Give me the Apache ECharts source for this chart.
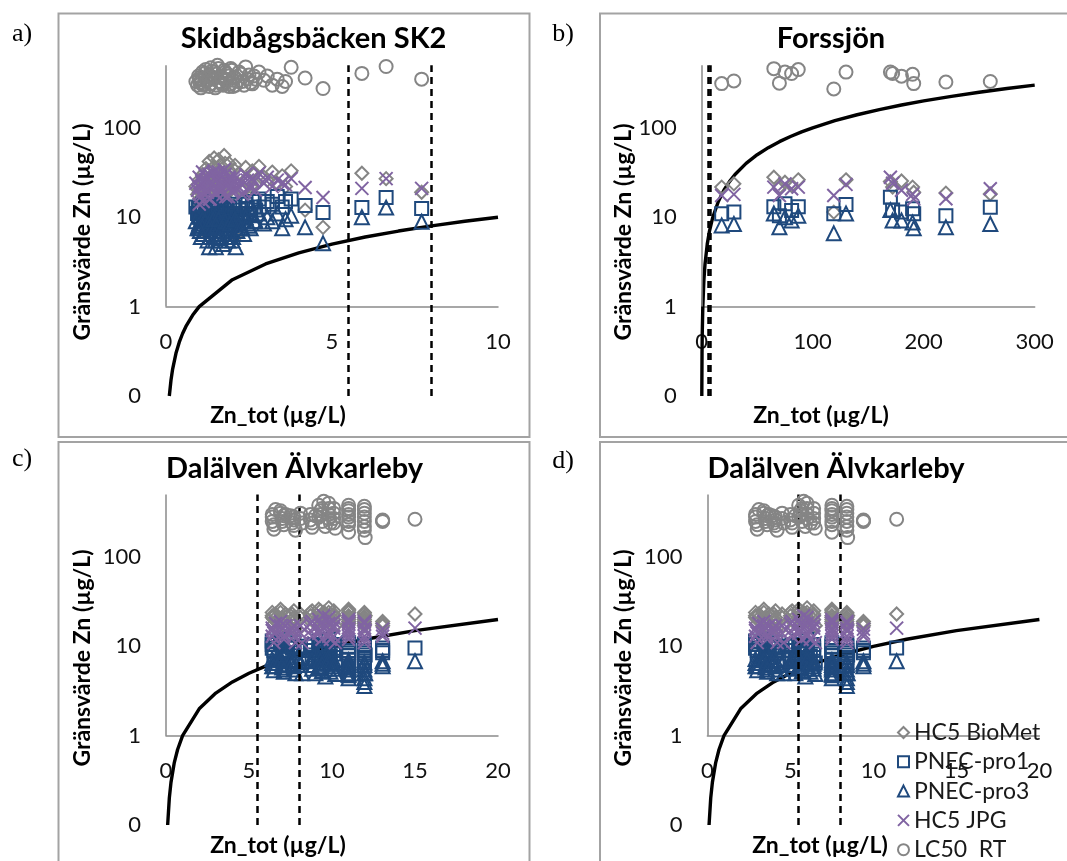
<!DOCTYPE html>
<html>
<head>
<meta charset="utf-8">
<title>Gränsvärde Zn</title>
<script src="https://cdn.jsdelivr.net/npm/echarts@6/dist/echarts.min.js"></script>
<style>
html,body{margin:0;padding:0;background:#fff}
#main{width:1067px;height:861px}
</style>
</head>
<body>
<div id="main"></div>
<script>
// series names (legend order)
var seriesNames = ['HC5 BioMet', 'PNEC-pro1', 'PNEC-pro3', 'HC5 JPG', 'LC50  RT'];

// a) Skidbågsbäcken SK2
var aZn   = [0.90,0.95,1.00,1.05,1.10,1.15,1.20,1.25,1.30,1.30,1.35,1.40,1.45,1.50,1.55,1.60,1.65,1.70,1.75,1.80,1.85,1.90,1.95,2.00,2.05,2.10,2.20,2.30,2.40,2.50,2.60,2.70,2.80,2.95,3.05,3.20,3.35,3.50,3.60,3.77,4.19,4.73,5.90,6.63,7.70,
             0.98,1.02,1.08,1.12,1.18,1.22,1.28,1.33,1.38,1.42,1.48,1.52,1.58,1.62,1.68,1.72,1.78,1.82,1.88,1.92,1.98,2.02,2.08,2.15,2.25,2.35,2.45,2.55,2.65,1.00];
var aBio  = [22,18,26,15,30,20,35,24,42,6,28,21,46,25,32,19,38,27,49,22,30,40,24,18,34,6,31,21,36,25,33,23,37,28,26,32,24,29,22,33,12,7.7,31,27,19,
             20,16,25,19,28,22,33,18,26,36,21,29,44,23,31,20,40,26,19,33,27,22,38,24,29,20,27,22,30,13];
var aPro1 = [13,11,12,9.5,14,10,11,9,13,8,12,10,15,9,11,8.5,13,10,14,9,12,11,10,8,13,9.5,12,10,14,11,15,12,16,13,15,14,17,13,15,16,13.5,11.3,12.8,16.6,12.5,
             12.5,10,11.5,9,13,10.5,12,9,11,13.5,8.5,12,14,9.5,11.5,8.5,13,10,8,12.5,10.5,9,14,10,11,9,12.5,10.5,13,10];
var aPro3 = [9,7.5,8.5,6,9.5,7,8,5.5,9,4.6,8,6.5,10,4.6,7.5,5.8,8.5,7,9.5,6,8,6,6.5,5.5,9,4.6,8.5,7.5,10,8,10.5,9,11,8.5,10,9,11,7.5,9.5,10.4,7.7,5.1,10,12.8,8.9,
             8,7,8,6.5,9,7,8.5,6,7.5,9.5,5.5,8,9.5,6.5,7.5,5,9,7,5.5,8.5,7,6,9.5,7,7.5,6.5,8.5,7.5,9,7.5];
var aJpg  = [24,20,28,17,32,22,26,19,30,16,25,21,33,18,27,23,29,20,34,17,24,28,22,19,26,21,25,18,30,22,27,20,31,24,28,22,26,24,23,27,21.5,16.6,21,27,21,
             22,18,25,15,29,20,27,16,23,31,19,26,32,20,25,18,30,22,17,27,23,20,29,21,24,19,26,21,25,14];
var aLc50 = [330,300,360,280,420,310,450,340,390,290,470,360,420,300,500,330,380,310,440,350,400,290,460,340,370,300,420,330,480,390,310,350,420,340,380,300,350,290,330,475,360,275,406,485,350,
             380,320,350,300,410,330,370,310,430,350,280,400,460,320,360,300,420,340,380,310,440,290,360,330,400,300,350,320,380,340];
var aRef  = [[0.1,0.1],[0.15,0.15],[0.2,0.2],[0.3,0.3],[0.4,0.4],[0.5,0.5],[0.6,0.6],[0.8,0.8],[1,1],[2,2],[3,3],[4,4],[5,5],[6,6],[7,7],[8,8],[9,9],[10,10]];

// b) Forssjön
var bZn   = [18,29,65,70,75,81,87,119,130,170,172,180,190,191,220,260];
var bBio  = [21.7,23.6,28,21.7,24.6,22.6,26.2,11.4,26.2,25,21.7,25.4,21.7,19,18.6,18.2];
var bPro1 = [10.9,11.4,13.1,10.4,14.1,11.9,13.1,10.9,13.9,16.7,12,11.4,12.4,10.9,10.4,12.9];
var bPro3 = [8.1,8.4,11,7.7,10,9.2,10.4,6.6,11,12,9.2,9.2,8.7,7.5,7.7,8.4];
var bJpg  = [17.5,18,21.7,17.5,23.6,20.8,21.7,17.5,23.3,28,24,20,18,16,16.1,20.8];
var bLc50 = [312,334,459,316,420,405,448,272,420,420,405,378,397,312,325,330];
var bRef  = [[0.1,0.1],[0.3,0.3],[0.5,0.5],[1,1],[2,2],[3,3],[5,5],[7,7],[10,10],[15,15],[20,20],[25,25],[30,30],[40,40],[50,50],[60,60],[70,70],[80,80],[90,90],[100,100],[120,120],[140,140],[160,160],[180,180],[200,200],[225,225],[250,250],[275,275],[300,300]];

// c) and d) Dalälven Älvkarleby (same limit values, two Zn measures)
var cZn   = [6.4,6.4,6.5,6.6,6.9,7.0,7.1,7.2,7.5,7.7,7.7,7.8,8.1,8.2,8.7,8.8,9.0,9.2,9.3,9.4,9.5,9.6,9.8,9.8,9.9,10.1,10.1,10.2,11.0,11.0,11.0,11.0,11.0,11.95,11.95,11.95,11.95,12.0,13.05,13.05,15.0,
             6.4,6.5,6.9,7.0,7.1,7.6,7.7,8.1,8.7,8.8,9.2,9.3,9.4,9.8,9.8,10.1,10.1,11.0,11.0,11.0,11.95,11.95,11.95,13.05];
var dZn   = [2.9,2.9,3.0,3.1,3.4,3.5,3.6,3.7,3.9,4.1,4.1,4.2,4.5,4.6,5.0,5.1,5.3,5.5,5.6,5.7,5.8,5.9,6.0,6.0,6.2,6.4,6.4,6.5,7.5,7.5,7.5,7.5,7.5,8.4,8.4,8.4,8.4,8.45,9.4,9.4,11.4,
             2.9,3.0,3.4,3.5,3.6,4.0,4.1,4.5,5.0,5.1,5.5,5.6,5.7,6.0,6.0,6.4,6.4,7.5,7.5,7.5,8.4,8.4,8.4,9.4];
var cBio  = [24,21,18,23,26,20,17,23,22,25,19,16,21,17,24,20,18,26,22,19,24,23,27,21,18,25,20,17,26,22,18,20,24,24,21,19,17,22,19,17,23,
             22,20,24,21,19,23,21,23,22,25,21,25,23,24,20,22,23,25,21,19,23,20,18,18];
var cPro1 = [11.5,9.5,8,10.5,12,9,7.5,8.5,10,11,8.5,7,9,7.2,10,8,7,11.5,9,7.5,10,8.5,12,9.5,7.8,10.5,8.2,6.5,11,9,7,4.7,8,10.5,9,7.5,6,8,9.6,8.5,9.6,
             10.5,9,11,10,8,9.5,10,10,9,10.5,8.5,10.5,9.5,10,8.5,9.5,9,10,8.5,6,10,8.5,6.8,9];
var cPro3 = [7.2,6,5.4,6.5,7.5,5.8,5.2,6.2,6.8,7,5.5,5,6.2,5,6.8,5.6,5,7.4,6,5.3,6.6,4.6,7.6,6.4,5.2,7,5.6,4.9,7,5.8,5,4.8,6.2,6.6,5.5,4.4,3.6,5,6.8,6,6.8,
             6.5,6,7,6.2,5.5,6.4,6,6.6,6.2,7,5.8,7,6.4,7,5.6,6.4,6,6.6,5.5,4.4,6.2,5,4,6.4];
var cJpg  = [16,13,11,18,19,14,12,17,15,17,13,11,14,11,18,13,16,20,15,12,22,17,21,14,12,19,13,11,20,16,12,14,18,19,16,13,11,15,15.6,13,16,
             15,14,17,16,13,16,15,17,15,19,14,18,17,18,13,16,17,19,15,13,18,15,12,14];
var cLc50 = [300,250,205,340,330,270,230,300,290,260,225,200,310,240,260,215,290,380,330,250,420,220,400,300,240,350,270,210,380,330,280,230,190,370,310,250,200,165,260,255,265,
             280,230,310,250,290,240,280,270,300,240,280,300,350,350,270,310,240,350,300,250,340,280,220,250];
var cRef  = [[0.1,0.1],[0.2,0.2],[0.3,0.3],[0.5,0.5],[0.7,0.7],[1,1],[2,2],[3,3],[4,4],[5,5],[6,6],[8,8],[10,10],[12,12],[15,15],[20,20]];

var limitLines = [5.5, 8];

var sans = 'Lato, "Open Sans", sans-serif';
var serif = '"Liberation Serif", "DejaVu Serif", serif';
var gray = '#858585', blue = '#1f497d', purple = '#8064a2';
var symbols = ['diamond', 'rect', 'triangle', 'path://M0,0L10,10M10,0L0,10', 'circle'];
var symbolSizes = [13, 13, 14, 13, 13];
var colors = [gray, blue, blue, purple, gray];

var chart = echarts.init(document.getElementById('main'));

function pairs(xs, ys) {
    var out = [];
    for (var i = 0; i < xs.length; i++) out.push([xs[i], ys[i]]);
    return out;
}

var grids = [
    {left: 166, top: 38.4, width: 332, height: 357.6},
    {left: 701.7, top: 38.4, width: 333, height: 357.6},
    {left: 166, top: 467.7, width: 332, height: 357.3},
    {left: 707.4, top: 467.7, width: 332, height: 357.3}
];
var xMax = [10, 300, 20, 20];
var xInterval = [5, 100, 5, 5];
var panels = [
    {zn: aZn, ys: [aBio, aPro1, aPro3, aJpg, aLc50], ref: aRef},
    {zn: bZn, ys: [bBio, bPro1, bPro3, bJpg, bLc50], ref: bRef},
    {zn: cZn, ys: [cBio, cPro1, cPro3, cJpg, cLc50], ref: cRef},
    {zn: dZn, ys: [cBio, cPro1, cPro3, cJpg, cLc50], ref: cRef}
];

var xAxes = [], yAxes = [], series = [];
grids.forEach(function (g, i) {
    xAxes.push({
        type: 'value', gridIndex: i, min: 0, max: xMax[i], interval: xInterval[i],
        offset: -(g.height / 4),
        axisLine: {onZero: false, lineStyle: {color: '#8a8a8a', width: 1.5}},
        axisTick: {show: false},
        splitLine: {show: false},
        axisLabel: {margin: 24, fontSize: 22, color: '#111', fontFamily: sans}
    });
    yAxes.push({
        type: 'log', logBase: 10, gridIndex: i, min: 0.1, max: 1000,
        axisLine: {show: false},
        axisTick: {show: false},
        splitLine: {show: false},
        axisLabel: {
            margin: 25, fontSize: 22, color: '#111', fontFamily: sans,
            formatter: function (v) {
                if (v >= 1000) return '';
                if (v < 1) return '0';
                return String(Math.round(v));
            }
        }
    });

    var p = panels[i];
    var mlData = [[{coord: [0, 1], lineStyle: {color: '#8a8a8a', width: 1.5, type: 'solid'}}, {coord: [0, 500]}]];
    limitLines.forEach(function (x) {
        mlData.push([{coord: [x, 0.1]}, {coord: [x, 500]}]);
    });
    series.push({
        type: 'line', name: 'ref', xAxisIndex: i, yAxisIndex: i,
        data: p.ref, showSymbol: false, symbol: 'none', z: 1,
        lineStyle: {color: '#000', width: 3.4},
        markLine: {
            silent: true, symbol: ['none', 'none'], label: {show: false},
            lineStyle: {color: '#000', width: 2.5, type: [7, 5]},
            data: mlData
        }
    });
    for (var s = 0; s < 5; s++) {
        series.push({
            type: 'scatter', name: seriesNames[s], xAxisIndex: i, yAxisIndex: i,
            data: pairs(p.zn, p.ys[s]),
            symbol: symbols[s], symbolSize: symbolSizes[s], z: 2 + s,
            itemStyle: {color: 'rgba(0,0,0,0)', borderColor: colors[s], borderWidth: 2, opacity: 1}
        });
    }
});

function txt(x, y, text, font, rot) {
    return {
        type: 'text', x: x, y: y, rotation: rot || 0, silent: true,
        style: {text: text, font: font, fill: '#000',
            align: 'center', verticalAlign: 'middle',
            textAlign: 'center', textVerticalAlign: 'middle'}
    };
}
function box(x, y, w, h) {
    return {type: 'rect', silent: true, shape: {x: x, y: y, width: w, height: h},
        style: {fill: 'none', stroke: '#a3a3a3', lineWidth: 2}};
}

var titleFont = 'bold 29px ' + sans;
var axisFont = 'bold 23px ' + sans;
var labFont = '26px ' + serif;

var graphics = [
    box(58.5, 13.5, 471, 423.5), box(600, 13.5, 480, 423.5),
    box(58.5, 442, 471, 430), box(600, 442, 480, 430),
    txt(313.5, 39, 'Skidbågsbäcken SK2', titleFont),
    txt(831, 39, 'Forssjön', titleFont),
    txt(294.5, 469, 'Dalälven Älvkarleby', titleFont),
    txt(836, 469, 'Dalälven Älvkarleby', titleFont),
    txt(278, 416, 'Zn_tot (µg/L)', axisFont),
    txt(821, 416, 'Zn_tot (µg/L)', axisFont),
    txt(278, 846, 'Zn_tot (µg/L)', axisFont),
    txt(820, 846, 'Zn_tot (µg/L)', axisFont),
    txt(82.6, 232, 'Gränsvärde Zn (µg/L)', axisFont, Math.PI / 2),
    txt(624, 232, 'Gränsvärde Zn (µg/L)', axisFont, Math.PI / 2),
    txt(82.6, 658, 'Gränsvärde Zn (µg/L)', axisFont, Math.PI / 2),
    txt(624, 658, 'Gränsvärde Zn (µg/L)', axisFont, Math.PI / 2),
    txt(22, 34, 'a)', labFont),
    txt(563, 34, 'b)', labFont),
    txt(22, 459, 'c)', labFont),
    txt(563, 461, 'd)', labFont)
];

var option = {
    animation: false,
    backgroundColor: '#fff',
    grid: grids,
    xAxis: xAxes,
    yAxis: yAxes,
    legend: {
        data: seriesNames, orient: 'vertical', left: 897, top: 720,
        width: 170, height: 170,
        padding: 0, itemWidth: 11, itemHeight: 11, itemGap: 4.3,
        textStyle: {fontSize: 23, color: '#1a1a1a', fontFamily: sans, lineHeight: 25}
    },
    graphic: graphics,
    series: series
};
chart.setOption(option);
</script>
</body>
</html>
